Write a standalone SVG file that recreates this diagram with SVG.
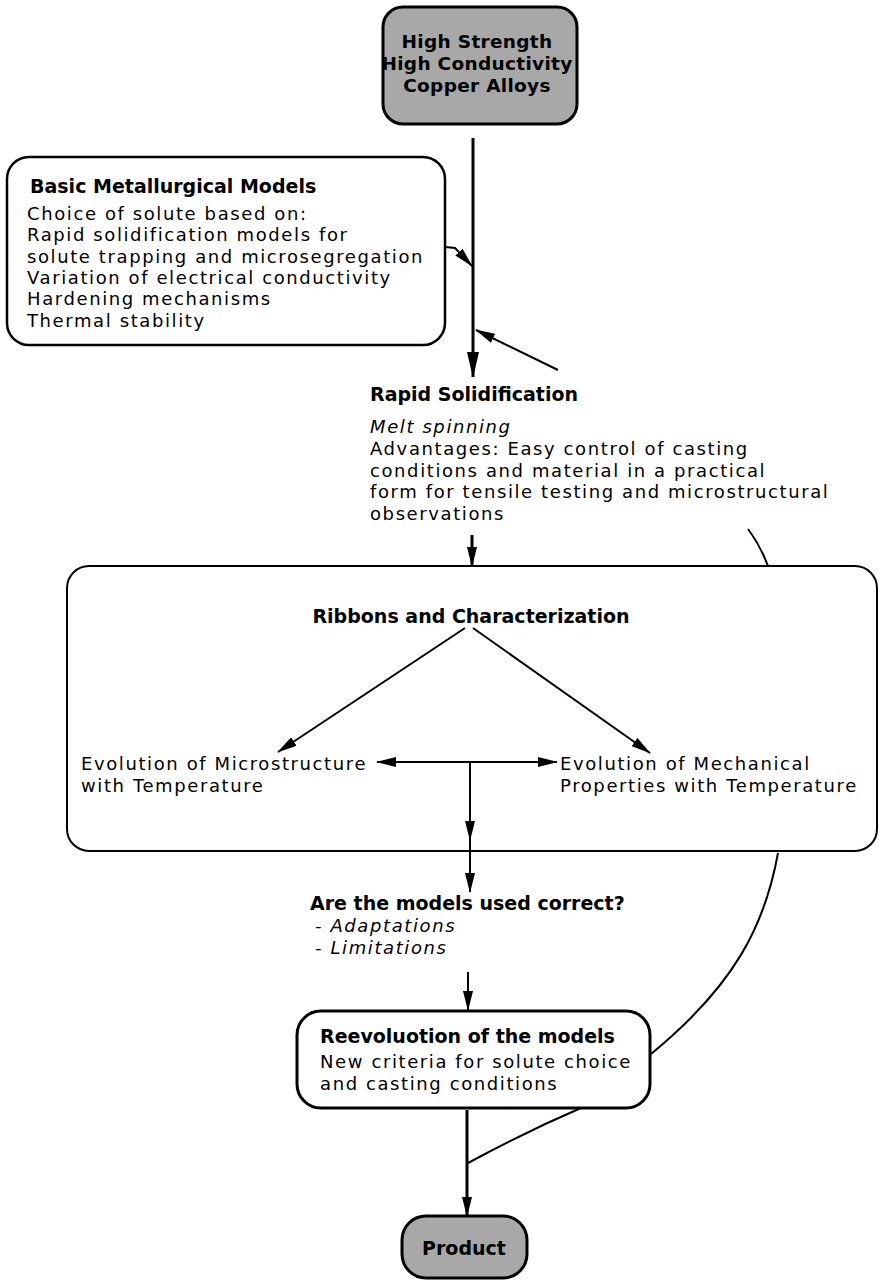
<svg xmlns="http://www.w3.org/2000/svg" width="880" height="1282" viewBox="0 0 880 1282">
<style>
text{font-family:"DejaVu Sans","Liberation Sans",sans-serif;fill:#000}
.r{font-size:18px;letter-spacing:1.6px}
.b{font-size:19px;font-weight:bold}
.t{font-size:18.5px;font-weight:bold;letter-spacing:0.3px}
.i{font-size:18px;font-style:italic;letter-spacing:1.6px}
.box{fill:#fff;stroke:#000}
.shade{fill:#a8a8a8;stroke:#000;stroke-width:3}
.ln{fill:none;stroke:#000;stroke-width:2}
.thick{fill:none;stroke:#000;stroke-width:3}
</style>
<defs>
<marker id="ah" viewBox="0 0 20 10" refX="19" refY="5" markerWidth="20" markerHeight="10" markerUnits="userSpaceOnUse" orient="auto"><path d="M0,0 L20,5 L0,10 z" fill="#000"/></marker>
<marker id="ahl" viewBox="0 0 26 12" refX="25" refY="6" markerWidth="26" markerHeight="12" markerUnits="userSpaceOnUse" orient="auto"><path d="M0,0 L26,6 L0,12 z" fill="#000"/></marker>
</defs>
<g id="connectors">
<line class="thick" x1="473" y1="138" x2="473" y2="377" marker-end="url(#ahl)"/>
<polyline class="ln" points="445,247 455,248 472,266" marker-end="url(#ah)"/>
<line class="ln" x1="558" y1="370" x2="476" y2="330" marker-end="url(#ah)"/>
<path class="ln" d="M748,529 Q760,545 768,566"/>
<line class="thick" x1="472" y1="535" x2="472" y2="566" marker-end="url(#ah)"/>
<line class="ln" x1="465" y1="628" x2="278" y2="752" marker-end="url(#ah)"/>
<line class="ln" x1="473" y1="628" x2="650" y2="753" marker-end="url(#ah)"/>
<line class="ln" x1="470" y1="762" x2="377" y2="762" marker-end="url(#ah)"/>
<line class="ln" x1="470" y1="762" x2="557" y2="762" marker-end="url(#ah)"/>
<line class="ln" x1="470" y1="762" x2="470" y2="840" marker-end="url(#ah)"/>
<line class="ln" x1="470" y1="840" x2="470" y2="892" marker-end="url(#ah)"/>
<line class="ln" x1="468" y1="972" x2="468" y2="1010" marker-end="url(#ah)"/>
<path class="ln" d="M778,853 C765,925 735,985 651,1054"/>
<path class="ln" d="M581,1108 Q525,1132 468,1163"/>
<line class="thick" x1="467" y1="1110" x2="467" y2="1216" marker-end="url(#ah)"/>
</g>
<g id="node-top">
<rect class="shade" x="383" y="7" width="194" height="117" rx="20"/>
<text class="t" x="477" y="48" text-anchor="middle">High Strength</text>
<text class="t" x="477" y="70" text-anchor="middle">High Conductivity</text>
<text class="t" x="477" y="92" text-anchor="middle">Copper Alloys</text>
</g>
<g id="node-basic">
<rect class="box" style="stroke-width:2.5" x="7" y="157" width="438" height="188" rx="22"/>
<text class="b" x="30" y="193">Basic Metallurgical Models</text>
<text class="r" x="27" y="220">Choice of solute based on:</text>
<text class="r" x="27" y="241.3">Rapid solidification models for</text>
<text class="r" x="27" y="262.6">solute trapping and microsegregation</text>
<text class="r" x="27" y="283.9">Variation of electrical conductivity</text>
<text class="r" x="27" y="305.2">Hardening mechanisms</text>
<text class="r" x="27" y="326.5">Thermal stability</text>
</g>
<g id="node-rapid">
<text class="b" x="370" y="401">Rapid Solidification</text>
<text class="i" x="370" y="433">Melt spinning</text>
<text class="r" x="370" y="455">Advantages: Easy control of casting</text>
<text class="r" x="370" y="476.5">conditions and material in a practical</text>
<text class="r" x="370" y="498">form for tensile testing and microstructural</text>
<text class="r" x="370" y="520">observations</text>
</g>
<g id="node-ribbons">
<rect class="box" style="fill:none;stroke-width:2" x="67" y="566" width="810" height="285" rx="22"/>
<text class="b" x="471" y="623" text-anchor="middle">Ribbons and Characterization</text>
</g>
<g id="node-micro">
<text class="r" x="81" y="770">Evolution of Microstructure</text>
<text class="r" x="81" y="791.5">with Temperature</text>
</g>
<g id="node-mech">
<text class="r" x="560" y="770">Evolution of Mechanical</text>
<text class="r" x="560" y="791.5">Properties with Temperature</text>
</g>
<g id="node-question">
<text class="b" x="310" y="910">Are the models used correct?</text>
<text class="i" x="315" y="932">- Adaptations</text>
<text class="i" x="315" y="953.5">- Limitations</text>
</g>
<g id="node-reeval">
<rect class="box" style="stroke-width:3" x="297" y="1011" width="353" height="97" rx="24"/>
<text class="b" x="320" y="1043">Reevoluotion of the models</text>
<text class="r" x="320" y="1068">New criteria for solute choice</text>
<text class="r" x="320" y="1090">and casting conditions</text>
</g>
<g id="node-product">
<rect class="shade" x="402" y="1216" width="125" height="62" rx="24"/>
<text class="b" x="464" y="1255" text-anchor="middle">Product</text>
</g>
</svg>
